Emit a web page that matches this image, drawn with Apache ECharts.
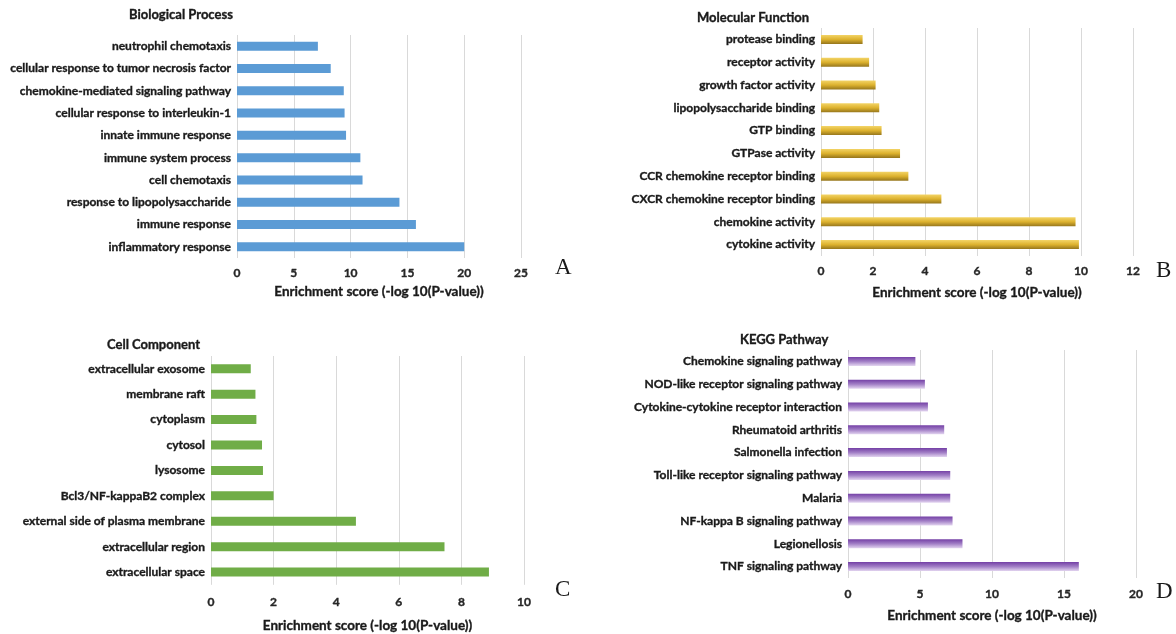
<!DOCTYPE html>
<html><head><meta charset="utf-8">
<script src="https://cdn.jsdelivr.net/npm/echarts@6/dist/echarts.min.js"></script>
<style>html,body{margin:0;padding:0;background:#fff}#c{width:1176px;height:634px}</style>
</head><body><div id="c"></div>
<script>
// Data (listed top-to-bottom as in the picture)
const bpCategories = ['neutrophil chemotaxis','cellular response to tumor necrosis factor','chemokine-mediated signaling pathway','cellular response to interleukin-1','innate immune response','immune system process','cell chemotaxis','response to lipopolysaccharide','immune response','inflammatory response'];
const bpValues = [7.12, 8.25, 9.4, 9.47, 9.6, 10.86, 11.05, 14.3, 15.75, 20.0];

const mfCategories = ['protease binding','receptor activity','growth factor activity','lipopolysaccharide binding','GTP binding','GTPase activity','CCR chemokine receptor binding','CXCR chemokine receptor binding','chemokine activity','cytokine activity'];
const mfValues = [1.6, 1.85, 2.1, 2.24, 2.33, 3.04, 3.36, 4.63, 9.79, 9.92];

const ccCategories = ['extracellular exosome','membrane raft','cytoplasm','cytosol','lysosome','Bcl3/NF-kappaB2 complex','external side of plasma membrane','extracellular region','extracellular space'];
const ccValues = [1.27, 1.42, 1.45, 1.63, 1.66, 2.0, 4.63, 7.46, 8.88];

const keggCategories = ['Chemokine signaling pathway','NOD-like receptor signaling pathway','Cytokine-cytokine receptor interaction','Rheumatoid arthritis','Salmonella infection','Toll-like receptor signaling pathway','Malaria','NF-kappa B signaling pathway','Legionellosis','TNF signaling pathway'];
const keggValues = [4.68, 5.34, 5.55, 6.68, 6.87, 7.1, 7.1, 7.26, 7.95, 16.03];

const axisMax = [25, 12, 10, 20];
const axisInterval = [5, 2, 2, 5];
const titles = ['Biological Process','Molecular Function','Cell Component','KEGG Pathway'];
const panelLetters = ['A','B','C','D'];
const axisName = 'Enrichment score (-log 10(P-value))';

const FONT = 'Lato';
const INK = '#1a1a1a';
const chart = echarts.init(document.getElementById('c'), null, {renderer:'canvas'});

const grids = [
  {left:237, top:35, width:284, height:223},
  {left:821, top:28, width:312, height:228},
  {left:211, top:356, width:313, height:229},
  {left:848, top:350, width:288, height:228}
];
const labelMargins = [9, 9, 11, 10];
const nameGaps = [27, 30, 34, 31];
const cats = [bpCategories, mfCategories, ccCategories, keggCategories];
const vals = [bpValues, mfValues, ccValues, keggValues];

const colors = [
  '#5B9BD5',
  new echarts.graphic.LinearGradient(0,0,0,1,[{offset:0,color:'#F3D467'},{offset:0.5,color:'#DDB22E'},{offset:1,color:'#96761C'}]),
  '#70AD47',
  new echarts.graphic.LinearGradient(0,0,0,1,[{offset:0,color:'#7440A6'},{offset:0.5,color:'#A27FC6'},{offset:1,color:'#E3D5F0'}])
];

const boldText = {fontFamily:FONT, fontWeight:'bold', color:INK, textBorderColor:INK, textBorderWidth:0.35};

const titleDefs = [
  {text:titles[0], left:124, top:3},
  {text:titles[1], left:692, top:6},
  {text:titles[2], left:102, top:333},
  {text:titles[3], left:735, top:328}
].map(t => ({...t, textStyle:{...boldText, fontSize:13}}));

const option = {
  animation:false,
  backgroundColor:'#fff',
  title: titleDefs,
  grid: grids.map(g => ({...g, containLabel:false})),
  xAxis: grids.map((g,i) => ({
    type:'value', gridIndex:i, min:0, max:axisMax[i], interval:axisInterval[i],
    axisLine:{show:false}, axisTick:{show:false},
    splitLine:{show:true, lineStyle:{color:'#D9D9D9', width:1}},
    axisLabel:{...boldText, color:'#262626', textBorderColor:'#262626', fontSize:12, margin:labelMargins[i]},
    name:axisName, nameLocation:'middle', nameGap:nameGaps[i],
    nameTextStyle:{...boldText, fontSize:13.5}
  })),
  yAxis: grids.map((g,i) => ({
    type:'category', gridIndex:i, data:cats[i], inverse:true,
    axisLine:{show:false}, axisTick:{show:false},
    axisLabel:{...boldText, fontSize:12, margin:6}
  })),
  series: grids.map((g,i) => ({
    type:'bar', xAxisIndex:i, yAxisIndex:i, data:vals[i], barWidth:9,
    itemStyle:{color:colors[i]}
  })),
  graphic: [
    {x:555, y:256}, {x:1156, y:259}, {x:555, y:578}, {x:1156, y:580}
  ].map((p,i) => ({type:'text', x:p.x, y:p.y, style:{text:panelLetters[i], font:'23px "Liberation Serif"', fill:INK}}))
};
chart.setOption(option);
</script></body></html>
